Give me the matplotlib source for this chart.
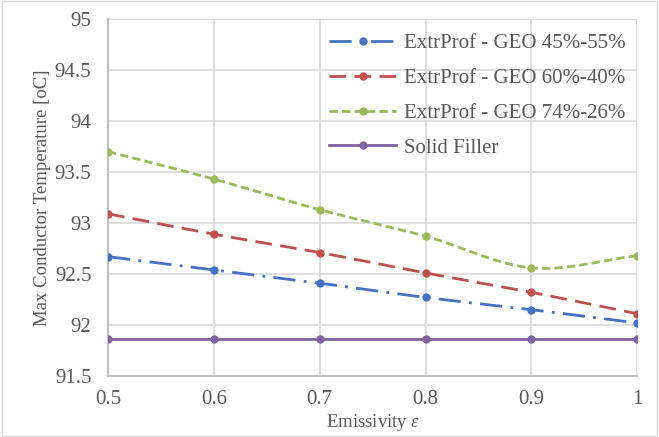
import matplotlib
matplotlib.use("Agg")
import matplotlib.pyplot as plt
import numpy as np
from matplotlib.patches import Rectangle

emissivity = [0.5, 0.6, 0.7, 0.8, 0.9, 1.0]
geo_45_55 = [92.67, 92.54, 92.41, 92.27, 92.15, 92.02]
geo_60_40 = [93.09, 92.89, 92.71, 92.51, 92.32, 92.11]
geo_74_26 = [93.70, 93.43, 93.13, 92.87, 92.56, 92.68]
solid_filler = [91.86, 91.86, 91.86, 91.86, 91.86, 91.86]

labels = ["ExtrProf - GEO 45%-55%", "ExtrProf - GEO 60%-40%",
          "ExtrProf - GEO 74%-26%", "Solid Filler"]
yticks = [91.5, 92, 92.5, 93, 93.5, 94, 94.5, 95]
xticks = [0.5, 0.6, 0.7, 0.8, 0.9, 1.0]


def smooth(x, y, n=30):
    # Catmull-Rom spline through the points (Excel-like smoothed line)
    x = np.asarray(x, float); y = np.asarray(y, float)
    px = np.concatenate([[2 * x[0] - x[1]], x, [2 * x[-1] - x[-2]]])
    py = np.concatenate([[2 * y[0] - y[1]], y, [2 * y[-1] - y[-2]]])
    xs, ys = [], []
    for i in range(1, len(px) - 2):
        t = np.linspace(0, 1, n, endpoint=(i == len(px) - 3))
        for arr, out in ((px, xs), (py, ys)):
            p0, p1, p2, p3 = arr[i - 1], arr[i], arr[i + 1], arr[i + 2]
            out.extend(0.5 * ((2 * p1) + (-p0 + p2) * t
                              + (2 * p0 - 5 * p1 + 4 * p2 - p3) * t ** 2
                              + (-p0 + 3 * p1 - 3 * p2 + p3) * t ** 3))
    return np.array(xs), np.array(ys)


plt.rcParams['font.family'] = ['Liberation Serif', 'DejaVu Serif']
plt.rcParams['mathtext.fontset'] = 'custom'
plt.rcParams['mathtext.rm'] = 'Liberation Serif'
plt.rcParams['mathtext.it'] = 'Liberation Serif:italic'
fig = plt.figure(figsize=(6.59, 4.37), dpi=100)
ax = fig.add_axes([0.164, 0.1396, 0.803, 0.817])

text_color = "#595959"
series = [
    (geo_45_55, "#4472C4", (0, (8, 3, 1, 3))),
    (geo_60_40, "#C0504D", (0, (6, 3))),
    (geo_74_26, "#9BBB59", (0, (3, 1.5))),
    (solid_filler, "#8064A2", "-"),
]
for (vals, color, ls), lab in zip(series, labels):
    sx, sy = smooth(emissivity, vals)
    ax.plot(sx, sy, color=color, lw=2, linestyle=ls, zorder=3)
    ax.plot(emissivity, vals, color=color, lw=0, marker='o', markersize=5, zorder=4)
    ax.plot([], [], color=color, lw=2, linestyle=ls, marker='o', markersize=5, label=lab)

ax.set_xlim(0.5, 1.0)
ax.set_ylim(91.5, 95)
ax.set_xticks(xticks)
ax.set_xticklabels(["0.5", "0.6", "0.7", "0.8", "0.9", "1"])
ax.set_yticks(yticks)
ax.set_yticklabels(["91.5", "92", "92.5", "93", "93.5", "94", "94.5", "95"])
ax.grid(True, color="#d9d9d9", lw=1.2, zorder=0)
ax.set_axisbelow(True)
for s in ["top", "right"]:
    ax.spines[s].set_visible(False)
for s in ["left", "bottom"]:
    ax.spines[s].set_color("#bfbfbf")
    ax.spines[s].set_linewidth(1.5)
ax.tick_params(length=0, labelsize=15, labelcolor=text_color)
ax.tick_params(axis='y', pad=12)
ax.tick_params(axis='x', pad=10)

ax.set_xlabel(r"Emissivity $\mathit{\varepsilon}$", fontsize=13.5, color=text_color, labelpad=2)
ax.set_ylabel("Max Conductor Temperature [oC]", fontsize=13.5, color=text_color, labelpad=3)

leg = ax.legend(loc="upper right", bbox_to_anchor=(1.0 - 3.0 / 529, 1.0 - 6.5 / 357),
                fontsize=15, frameon=False, handlelength=3.2, handletextpad=0.4,
                labelspacing=0.73, borderaxespad=0.0)
for t in leg.get_texts():
    t.set_color(text_color)

fig.patches.append(Rectangle((0.003, 0.003), 0.994, 0.994, transform=fig.transFigure,
                             fill=False, edgecolor="#d9d9d9", lw=1))
fig.savefig("out.png", dpi=100)
